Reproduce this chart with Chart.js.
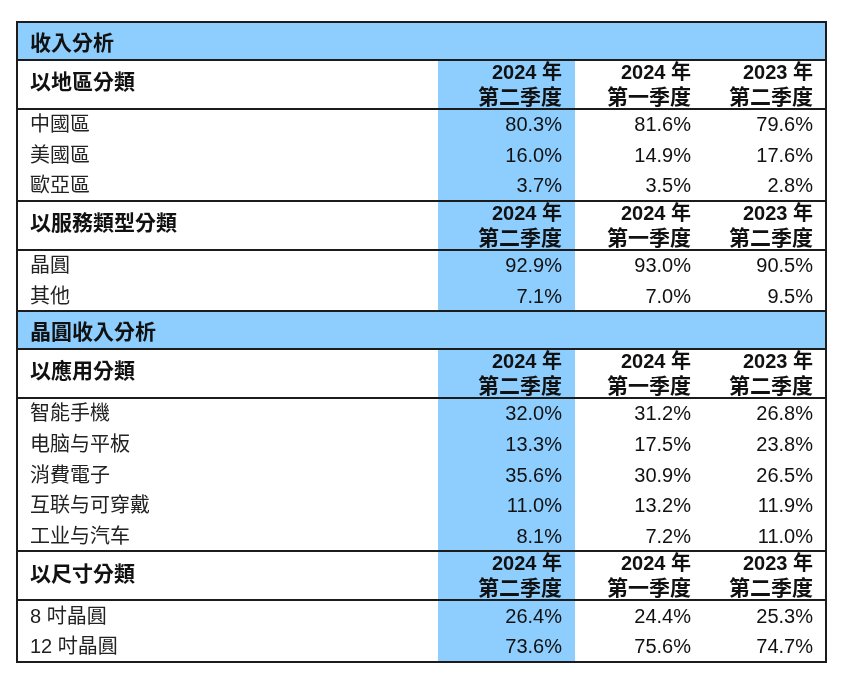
<!DOCTYPE html>
<html>
<head>
<meta charset="utf-8">
<script src="https://cdn.jsdelivr.net/npm/chart.js@4.4.1/dist/chart.umd.min.js"></script>
<style>
html,body{margin:0;padding:0;background:#ffffff;}
canvas{display:block;}
</style>
</head>
<body>
<canvas id="c" width="865" height="683" style="width:865px;height:683px"></canvas>
<script>
// ---------- DATA ----------
const sectionTitles = ["收入分析", "晶圓收入分析"];
const groupTitles = ["以地區分類", "以服務類型分類", "以應用分類", "以尺寸分類"];
const periodYears = ["2024 年", "2024 年", "2023 年"];
const periodQuarters = ["第二季度", "第一季度", "第二季度"];

const regionCategories = ["中國區", "美國區", "歐亞區"];
const region2024Q2 = [80.3, 16.0, 3.7];
const region2024Q1 = [81.6, 14.9, 3.5];
const region2023Q2 = [79.6, 17.6, 2.8];

const serviceCategories = ["晶圓", "其他"];
const service2024Q2 = [92.9, 7.1];
const service2024Q1 = [93.0, 7.0];
const service2023Q2 = [90.5, 9.5];

const applicationCategories = ["智能手機", "电脑与平板", "消費電子", "互联与可穿戴", "工业与汽车"];
const application2024Q2 = [32.0, 13.3, 35.6, 11.0, 8.1];
const application2024Q1 = [31.2, 17.5, 30.9, 13.2, 7.2];
const application2023Q2 = [26.8, 23.8, 26.5, 11.9, 11.0];

const sizeCategories = ["8 吋晶圓", "12 吋晶圓"];
const size2024Q2 = [26.4, 73.6];
const size2024Q1 = [24.4, 75.6];
const size2023Q2 = [25.3, 74.7];

// ---------- LAYOUT (table units) ----------
const ROW_H = { title: 37.5, header: 49, data: 30.7 };
const TABLE_W = 809;
const COL_EDGES = [0, 421, 558, 687, 809];   // label col, then 3 period cols
const HIGHLIGHT_COL = 1;
const PAD = 13;
const BLUE = "rgb(141,206,255)";
const LINE = "#1c1c1c";

// ---------- BUILD ROWS ----------
const rows = [];
function addTitle(t) { rows.push({ kind: "title", text: t }); }
function addGroup(title, cats, series) {
  rows.push({ kind: "header", text: title });
  cats.forEach((c, i) => rows.push({ kind: "data", text: c, values: series.map(s => s[i]) }));
}
addTitle(sectionTitles[0]);
addGroup(groupTitles[0], regionCategories, [region2024Q2, region2024Q1, region2023Q2]);
addGroup(groupTitles[1], serviceCategories, [service2024Q2, service2024Q1, service2023Q2]);
addTitle(sectionTitles[1]);
addGroup(groupTitles[2], applicationCategories, [application2024Q2, application2024Q1, application2023Q2]);
addGroup(groupTitles[3], sizeCategories, [size2024Q2, size2024Q1, size2023Q2]);

let acc = 0;
rows.forEach(r => { r.top = acc; acc += ROW_H[r.kind]; r.bottom = acc; });
const TOTAL_H = acc;

// ---------- TABLE PLUGIN ----------
const F_MIX = "'Liberation Sans', Arial, 'Noto Sans CJK TC', sans-serif";
const F_CJK = "'Noto Sans CJK TC', 'Noto Sans CJK SC', sans-serif";

const tablePlugin = {
  id: "tablePlugin",
  afterDraw(chart) {
    const ctx = chart.ctx;
    const xs = chart.scales.x, ys = chart.scales.y;
    const X = v => xs.getPixelForValue(v);
    const Y = v => ys.getPixelForValue(v);
    ctx.save();

    // white background
    ctx.fillStyle = "#ffffff";
    ctx.fillRect(X(0), Y(0), X(TABLE_W) - X(0), Y(TOTAL_H) - Y(0));

    // highlighted column
    const firstBody = rows[1].top;
    ctx.fillStyle = BLUE;
    ctx.fillRect(X(COL_EDGES[HIGHLIGHT_COL]), Y(firstBody),
      X(COL_EDGES[HIGHLIGHT_COL + 1]) - X(COL_EDGES[HIGHLIGHT_COL]), Y(TOTAL_H) - Y(firstBody));

    // title rows
    rows.filter(r => r.kind === "title").forEach(r => {
      ctx.fillRect(X(0), Y(r.top), X(TABLE_W) - X(0), Y(r.bottom) - Y(r.top));
    });

    // horizontal lines
    ctx.strokeStyle = LINE;
    ctx.lineWidth = 2;
    const lines = new Set();
    rows.forEach(r => {
      if (r.kind !== "data") { lines.add(r.top); lines.add(r.bottom); }
    });
    lines.forEach(v => {
      if (v <= 0 || v >= TOTAL_H) return;
      const y = Math.round(Y(v));
      ctx.beginPath(); ctx.moveTo(X(0), y); ctx.lineTo(X(TABLE_W), y); ctx.stroke();
    });
    // outer border
    ctx.strokeRect(Math.round(X(0)), Math.round(Y(0)),
      Math.round(X(TABLE_W) - X(0)), Math.round(Y(TOTAL_H) - Y(0)));

    // texts
    ctx.textBaseline = "middle";
    rows.forEach(r => {
      const mid = (r.top + r.bottom) / 2;
      if (r.kind === "title") {
        ctx.fillStyle = "#111";
        ctx.textAlign = "left";
        ctx.font = "bold 21px " + F_CJK;
        ctx.fillText(r.text, X(PAD), Y(mid + 1));
      } else if (r.kind === "header") {
        ctx.fillStyle = "#111";
        ctx.textAlign = "left";
        ctx.font = "bold 21px " + F_CJK;
        ctx.fillText(r.text, X(PAD), Y(r.top + 21.5));
        ctx.textAlign = "right";
        for (let c = 0; c < 3; c++) {
          const xr = X(COL_EDGES[c + 2] - PAD);
          ctx.font = "bold 20px " + F_MIX;
          ctx.fillText(periodYears[c], xr, Y(r.top + 13.5));
          ctx.font = "bold 21px " + F_CJK;
          ctx.fillText(periodQuarters[c], xr, Y(r.top + 36));
        }
      } else {
        ctx.fillStyle = "#222";
        ctx.textAlign = "left";
        ctx.font = "20px " + F_MIX;
        ctx.fillText(r.text, X(PAD), Y(mid + 1.5));
        ctx.fillStyle = "#111";
        ctx.textAlign = "right";
        r.values.forEach((v, c) => {
          ctx.fillText(v.toFixed(1) + "%", X(COL_EDGES[c + 2] - PAD), Y(mid + 1.5));
        });
      }
    });
    ctx.restore();
  }
};

new Chart(document.getElementById("c"), {
  type: "scatter",
  data: { datasets: [{ data: [], pointRadius: 0 }] },
  options: {
    responsive: false,
    animation: false,
    devicePixelRatio: 1,
    layout: { padding: { left: 17, top: 22, right: 39, bottom: 683 - 22 - TOTAL_H - 0.4 } },
    plugins: { legend: { display: false }, tooltip: { enabled: false } },
    scales: {
      x: { type: "linear", min: 0, max: TABLE_W, display: false },
      y: { type: "linear", min: 0, max: TOTAL_H, reverse: true, display: false }
    }
  },
  plugins: [tablePlugin]
});
</script>
</body>
</html>
